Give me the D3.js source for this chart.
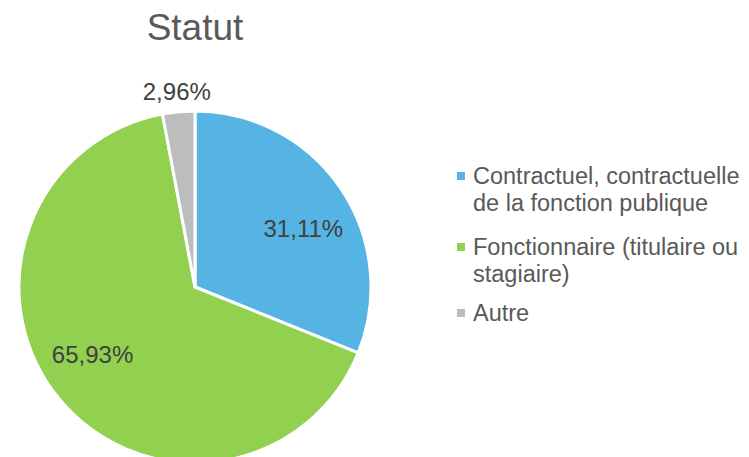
<!DOCTYPE html>
<html>
<head>
<meta charset="utf-8">
<script src="https://cdn.jsdelivr.net/npm/d3@7"></script>
<style>
  body { margin: 0; background: #fff; }
  text { font-family: "Liberation Sans", Arial, sans-serif; }
</style>
</head>
<body>
<svg id="chart"></svg>
<script>
const categories = ["Contractuel, contractuelle de la fonction publique", "Fonctionnaire (titulaire ou stagiaire)", "Autre"];
const legendLines = [["Contractuel, contractuelle", "de la fonction publique"], ["Fonctionnaire (titulaire ou", "stagiaire)"], ["Autre"]];
const values = [31.11, 65.93, 2.96];
const labels = ["31,11%", "65,93%", "2,96%"];
const colors = ["#55B4E4", "#92D050", "#BDBDBD"];

const width = 749, height = 457;
const svg = d3.select("#chart").attr("width", width).attr("height", height);

svg.append("text")
    .attr("x", 195).attr("y", 40)
    .attr("text-anchor", "middle")
    .attr("font-size", 37)
    .attr("fill", "#595959")
    .text("Statut");

const cx = 195, cy = 287, radius = 176;
const g = svg.append("g").attr("transform", `translate(${cx},${cy})`);

const pie = d3.pie().sort(null).value(d => d);
const arcs = pie(values);
const arc = d3.arc().innerRadius(0).outerRadius(radius);

g.selectAll("path.slice")
    .data(arcs)
    .enter().append("path")
    .attr("class", "slice")
    .attr("d", arc)
    .attr("fill", (d, i) => colors[i])
    .attr("stroke", "#fff")
    .attr("stroke-width", 3)
    .attr("stroke-linejoin", "round");

// labels: inside for big slices (best fit, nudged a bit clockwise), outside for the small one
const labelPos = d => {
    const mid = (d.startAngle + d.endAngle) / 2;
    if (d.endAngle - d.startAngle < 0.5) return d3.pointRadial(mid, radius + 20);
    return d3.pointRadial(mid + 0.1, 123);
};
g.selectAll("text.lbl")
    .data(arcs)
    .enter().append("text")
    .attr("class", "lbl")
    .attr("transform", d => `translate(${labelPos(d)})`)
    .attr("text-anchor", "middle")
    .attr("dy", "0.35em")
    .attr("font-size", 24)
    .attr("fill", "#404040")
    .text((d, i) => labels[i]);

// legend
const legend = svg.append("g").attr("transform", "translate(457,0)");
const legendY = [176, 247, 313];
legendLines.forEach((lines, i) => {
    legend.append("rect")
        .attr("x", 0).attr("y", legendY[i] - 4)
        .attr("width", 8).attr("height", 8)
        .attr("fill", colors[i]);
    const t = legend.append("text")
        .attr("x", 16).attr("y", legendY[i])
        .attr("font-size", 23.5)
        .attr("fill", "#595959");
    lines.forEach((l, j) => {
        t.append("tspan")
            .attr("x", 16)
            .attr("y", legendY[i] + j * 27)
            .attr("dy", "0.35em")
            .text(l);
    });
});
</script>
</body>
</html>
